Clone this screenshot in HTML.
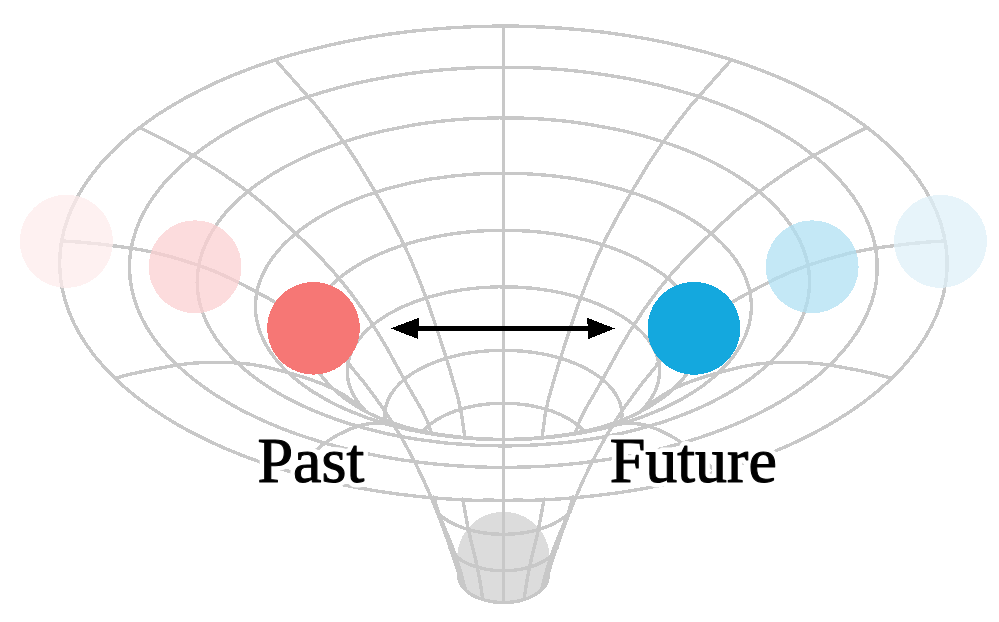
<!DOCTYPE html>
<html><head><meta charset="utf-8"><style>
html,body{margin:0;padding:0;background:#fff;width:999px;height:622px;overflow:hidden}
svg{display:block}
</style></head><body>
<svg width="999" height="622" viewBox="0 0 999 622" shape-rendering="crispEdges">
<rect width="999" height="622" fill="#fff"/>
<circle cx="503.4" cy="558" r="46.2" fill="#dcdcdc"/>
<path d="M458.6 574 L458.6 576 A44.8 26.6 0 0 0 548.2 576 L548.2 574 Z" fill="#dcdcdc"/>
<g transform="translate(0.4 0)" shape-rendering="crispEdges" fill="none" stroke="#c8c8c8" stroke-width="3.4" stroke-linejoin="round" stroke-linecap="round"><path d="M458.2 576.0L458.5 578.8L459.2 581.6L461.5 586.1L463.6 588.6L466.0 591.0L471.0 594.6L477.1 597.7L485.3 600.4L494.4 602.1L502.2 602.6L511.6 602.1L519.2 600.8L527.6 598.2L535.0 594.6L540.8 590.2L544.5 586.1L546.8 581.6L547.5 578.8L547.8 576.0"/><path d="M946.6 257.5L945.6 246.1L943.5 234.8L940.4 223.5L936.0 211.4L930.8 200.4L924.7 189.6L917.7 178.9L908.9 167.5L899.9 157.3L890.1 147.4L879.4 137.7L866.7 127.5L854.3 118.4L839.9 109.0L825.9 100.6L809.8 92.0L794.3 84.4L778.3 77.3L761.6 70.6L742.8 63.7L725.0 57.9L705.0 52.1L686.3 47.3L665.4 42.6L645.8 38.7L624.2 35.1L604.1 32.3L581.9 29.9L561.4 28.2L538.8 26.9L518.1 26.2L495.4 26.1L472.8 26.7L452.1 27.7L429.7 29.4L409.3 31.5L387.3 34.3L367.3 37.5L345.9 41.5L326.7 45.7L306.1 50.8L287.6 55.9L268.0 62.1L250.6 68.2L232.2 75.4L216.0 82.4L200.4 89.9L185.4 97.7L169.9 106.7L156.4 115.2L143.7 124.2L131.8 133.4L119.7 143.8L109.5 153.7L100.2 163.8L91.8 174.2L83.7 185.7L77.3 196.5L71.8 207.4L67.3 218.5L63.5 230.7L61.0 242.0L59.6 253.3L59.2 264.7L60.0 277.1L61.7 288.5L64.5 299.9L68.3 311.1L73.5 323.3L79.4 334.3L86.4 345.2L94.2 355.9L104.0 367.4L113.9 377.6L124.7 387.6L136.4 397.3L149.0 406.7L162.5 415.7L176.8 424.4L191.9 432.8L209.2 441.4L225.8 448.9L243.1 455.9L261.1 462.5L279.6 468.6L298.7 474.2L318.3 479.3L338.3 483.9L358.8 488.0L379.6 491.5L400.7 494.5L422.0 496.9L443.6 498.7L465.3 500.0L487.1 500.7L509.0 500.8L530.8 500.4L552.5 499.4L574.2 497.8L595.6 495.6L616.9 492.9L637.8 489.6L658.4 485.8L678.7 481.5L698.5 476.6L717.8 471.2L736.6 465.3L754.8 459.0L772.4 452.1L789.3 444.9L805.6 437.1L822.4 428.3L837.1 419.7L850.9 410.8L864.0 401.6L877.2 391.1L888.3 381.3L898.6 371.1L907.8 360.7L916.9 349.1L924.2 338.3L930.4 327.3L935.7 316.2L940.3 304.0L943.4 292.7L945.5 281.3L946.6 269.9L946.6 257.5"/><path d="M876.8 263.0L876.0 253.4L874.3 243.9L871.8 234.4L868.1 224.1L863.9 214.9L858.8 205.7L852.9 196.7L845.6 187.1L838.0 178.5L829.8 170.0L820.8 161.8L810.2 153.2L799.7 145.5L788.6 138.1L776.9 131.1L763.4 123.7L750.4 117.3L736.9 111.2L722.9 105.4L707.1 99.6L692.1 94.6L675.2 89.7L659.4 85.5L641.8 81.5L625.3 78.2L607.0 75.1L590.0 72.7L571.3 70.5L553.9 69.0L534.9 67.9L517.4 67.3L498.2 67.2L479.1 67.6L461.6 68.4L442.6 69.8L425.3 71.5L406.7 73.9L389.8 76.6L371.7 79.9L355.3 83.4L337.9 87.7L322.3 92.1L305.7 97.3L291.0 102.5L275.4 108.5L261.6 114.4L248.4 120.7L235.8 127.3L222.6 134.9L211.2 142.1L200.5 149.7L190.4 157.5L180.2 166.3L171.6 174.6L163.8 183.1L156.7 191.9L149.8 201.6L144.4 210.7L139.7 219.9L135.9 229.3L132.7 239.6L130.6 249.1L129.4 258.6L129.1 268.2L129.7 278.7L131.2 288.3L133.5 297.9L136.7 307.4L141.1 317.6L146.1 326.9L151.9 336.1L158.5 345.1L166.6 354.7L175.0 363.3L184.0 371.7L193.9 379.9L204.5 387.8L215.8 395.4L227.8 402.7L240.4 409.8L255.0 417.0L268.9 423.3L283.4 429.3L298.4 434.8L314.0 439.9L330.0 444.7L346.4 449.0L363.2 452.9L381.9 456.6L399.4 459.6L417.1 462.0L435.0 464.1L453.1 465.6L471.4 466.7L489.7 467.3L508.0 467.4L526.3 467.0L544.6 466.2L562.7 464.8L580.8 463.0L598.6 460.7L616.2 458.0L633.5 454.8L650.5 451.2L667.1 447.1L683.3 442.6L699.1 437.7L714.5 432.3L729.3 426.6L743.5 420.5L757.2 414.0L771.4 406.6L783.8 399.5L795.4 392.0L806.4 384.2L817.6 375.5L827.0 367.2L835.7 358.6L843.5 349.9L851.2 340.2L857.4 331.1L862.7 321.9L867.2 312.5L871.2 302.2L873.9 292.7L875.7 283.1L876.7 273.5L876.8 263.0"/><path d="M809.1 279.0L808.5 271.1L807.2 263.3L805.2 255.5L802.2 247.1L798.8 239.5L794.6 231.9L789.9 224.5L783.9 216.6L777.8 209.5L771.1 202.6L763.7 195.8L755.1 188.7L746.5 182.4L736.6 175.8L726.9 170.0L715.9 163.9L705.2 158.6L694.1 153.6L682.6 148.9L669.5 144.1L657.2 140.1L643.4 136.0L630.3 132.6L615.8 129.3L588.5 124.3L574.5 122.3L559.1 120.5L544.9 119.3L529.2 118.3L499.1 117.8L468.9 118.8L453.3 119.9L439.1 121.4L423.8 123.3L410.0 125.5L382.9 130.9L368.5 134.4L355.7 138.0L342.0 142.3L329.9 146.5L317.1 151.5L305.8 156.3L294.9 161.5L284.5 166.9L273.7 173.1L264.4 179.1L255.5 185.2L247.2 191.7L238.9 198.9L231.8 205.7L225.3 212.7L219.5 219.9L213.9 227.9L209.4 235.3L205.6 242.9L202.5 250.6L199.8 259.0L198.1 266.8L197.1 274.7L196.8 282.6L197.3 291.2L198.5 299.0L200.4 306.8L203.0 314.6L206.6 323.0L210.7 330.6L215.4 338.1L220.8 345.5L227.5 353.4L234.3 360.5L241.7 367.4L249.7 374.0L258.3 380.5L267.6 386.8L277.3 392.8L287.6 398.5L299.5 404.5L310.8 409.6L322.7 414.5L334.9 419.0L347.6 423.3L360.6 427.1L374.0 430.7L387.7 433.9L402.9 437.0L417.2 439.4L446.2 443.1L475.8 445.3L505.7 446.0L535.6 445.0L565.1 442.6L579.7 440.7L594.0 438.6L608.2 436.0L623.3 432.8L636.9 429.4L650.2 425.8L663.1 421.8L675.6 417.4L687.7 412.7L699.3 407.8L710.5 402.5L722.2 396.4L732.3 390.6L741.9 384.5L750.9 378.2L760.0 371.0L767.8 364.2L774.9 357.3L781.4 350.1L787.7 342.2L792.8 334.8L797.2 327.2L801.0 319.5L804.3 311.1L806.5 303.3L808.1 295.4L809.0 287.6L809.1 279.0"/><path d="M751.0 304.5L750.5 298.2L749.5 291.8L747.9 285.5L745.5 278.6L742.8 272.4L739.5 266.3L735.6 260.3L730.8 253.8L725.9 248.0L720.5 242.4L714.6 236.9L707.6 231.1L700.7 225.9L693.3 221.0L685.5 216.2L676.6 211.3L659.0 202.8L639.2 195.0L618.0 188.3L595.7 182.8L573.5 178.6L549.7 175.5L525.4 173.7L500.9 173.2L476.4 173.9L452.2 176.0L428.4 179.3L406.4 183.7L384.3 189.4L363.3 196.3L343.7 204.3L326.4 212.9L317.6 217.9L310.0 222.8L302.8 227.8L296.0 233.0L289.2 238.9L283.5 244.4L278.2 250.1L273.5 256.0L268.9 262.4L265.3 268.5L262.2 274.7L259.6 280.9L257.5 287.8L256.1 294.1L255.3 300.5L255.0 306.9L255.4 313.8L256.3 320.2L257.9 326.6L260.0 332.9L262.9 339.7L266.1 345.9L270.0 352.0L274.3 358.0L279.7 364.4L285.1 370.1L291.1 375.7L297.6 381.1L305.2 386.8L312.7 391.9L329.0 401.4L338.6 406.2L347.8 410.4L367.2 418.0L388.0 424.5L409.9 430.0L433.7 434.4L457.2 437.4L481.1 439.2L505.2 439.7L529.3 439.0L553.1 437.0L576.5 433.7L600.2 429.1L621.9 423.4L642.4 416.7L661.6 408.9L670.7 404.6L680.1 399.7L688.3 395.0L696.1 390.1L703.4 385.0L710.8 379.2L717.1 373.7L722.9 368.0L728.2 362.3L733.3 355.8L737.5 349.8L741.1 343.7L744.2 337.5L746.9 330.6L748.8 324.3L750.1 317.9L750.8 311.5L751.0 304.5"/><path d="M699.3 334.9L698.8 328.4L697.5 322.0L695.6 315.6L692.7 308.9L689.3 302.7L685.2 296.7L680.4 290.8L674.6 284.7L668.5 279.1L661.8 273.8L654.5 268.8L646.0 263.6L637.6 259.1L628.1 254.5L618.7 250.6L608.2 246.7L598.0 243.5L587.4 240.5L576.6 238.0L564.6 235.6L553.3 233.8L540.9 232.2L529.2 231.2L516.5 230.5L504.7 230.2L492.0 230.4L479.3 231.0L467.6 232.0L455.2 233.4L443.8 235.2L432.6 237.3L421.7 239.8L410.3 242.8L400.0 246.0L389.4 249.8L379.9 253.7L370.2 258.1L361.7 262.6L353.7 267.4L346.3 272.4L338.9 278.0L332.7 283.5L327.1 289.1L322.1 295.0L317.5 301.4L314.0 307.6L311.1 313.8L308.9 320.2L307.4 327.1L306.8 333.5L306.8 340.0L307.6 346.4L309.3 353.3L311.6 359.7L314.7 365.9L318.4 372.1L323.2 378.6L328.4 384.4L334.2 390.1L340.7 395.6L347.8 400.9L355.5 405.9L363.7 410.7L372.5 415.1"/><path d="M633.5 415.1L648.2 407.3L661.3 398.6L667.2 394.1L672.7 389.3L677.6 384.4L682.4 379.0L686.4 373.8L689.8 368.6L692.7 363.3L695.3 357.4L697.1 351.9L698.4 346.4L699.1 340.9L699.3 334.9"/><path d="M659.1 370.5L658.8 365.7L658.0 361.0L656.6 356.2L654.8 351.5L652.5 346.9L649.7 342.4L646.5 337.9L642.8 333.6L634.1 325.3L623.7 317.6L611.7 310.6L597.9 304.2L583.4 298.8L567.8 294.4L551.5 290.9L533.9 288.4L516.5 287.1L498.3 286.8L480.8 287.6L463.6 289.5L446.2 292.5L430.3 296.5L415.2 301.4L401.3 307.2L388.6 313.8L377.3 321.1L367.7 329.1L363.5 333.3L359.8 337.6L356.5 342.0L353.7 346.6L351.3 351.2L349.5 355.9L348.1 360.6L347.2 365.4L346.9 370.1L347.0 374.9L347.6 379.7L348.8 384.5L350.4 389.2L352.5 393.9L355.2 398.5L358.3 403.0L361.8 407.4L365.8 411.7"/><path d="M640.2 411.7L644.5 407.0L648.5 401.9L651.7 397.0L654.5 391.7L656.5 386.7L658.1 381.2L658.9 376.0L659.1 370.5"/><path d="M621.6 414.4L620.9 407.9L619.1 401.5L616.0 395.3L611.9 389.2L606.6 383.4L600.4 378.0L593.1 372.9L584.6 368.0L575.6 363.8L565.9 360.1L555.6 357.0L544.3 354.3L533.0 352.4L521.4 351.1L509.7 350.4L497.3 350.4L485.1 351.0L473.5 352.3L462.2 354.2L451.3 356.7L440.9 359.8L431.2 363.5L422.1 367.6L413.9 372.2L406.2 377.5L399.9 383.0L394.5 388.7L390.3 394.7L387.2 401.0L385.2 407.3L384.4 413.8L384.8 420.3"/><path d="M621.2 420.3L621.6 414.4"/><path d="M583.7 431.3L577.7 425.4L570.0 419.8L561.2 415.1L551.0 410.9L540.1 407.7L528.2 405.2L515.7 403.7L503.0 403.2L490.3 403.7L477.8 405.2L465.9 407.7L455.0 410.9L444.8 415.1L436.0 419.8L428.3 425.4L422.3 431.3"/><path d="M484.4 499.4L493.6 500.2L503.0 500.4L512.4 500.2L521.6 499.4"/><path d="M436.1 511.6L441.3 516.5L447.8 521.0L455.4 525.0L463.6 528.2L472.8 530.9L482.7 532.8L492.9 534.0L503.0 534.4L513.1 534.0L523.3 532.8L533.2 530.9L542.4 528.2L550.6 525.0L558.2 521.0L564.7 516.5L569.9 511.6"/><path d="M449.5 548.2L452.6 553.0L457.0 557.3L462.7 561.3L469.4 564.6L477.1 567.3L485.4 569.2L494.1 570.4L503.0 570.8L511.9 570.4L520.6 569.2L528.9 567.3L536.6 564.6L543.3 561.3L549.0 557.3L553.4 553.0L556.5 548.2"/><path d="M503.0 26.1L503.0 439.1"/><path d="M503.0 500.9L503.0 439.4"/><path d="M503.0 500.0L503.0 602.0"/><path d="M275.0 59.8L315.6 105.5L329.1 122.8L345.3 144.8L357.2 162.7L371.7 186.5L388.0 214.7L400.1 237.5L409.8 258.2L419.4 281.4L429.2 307.5L438.5 335.1L448.5 366.5L457.8 398.5L461.2 414.6L464.4 437.5"/><path d="M731.0 59.8L690.4 105.5L676.9 122.8L660.7 144.8L648.8 162.7L634.3 186.5L618.0 214.7L605.9 237.5L596.2 258.2L586.6 281.4L576.8 307.5L567.5 335.1L557.5 366.5L548.2 398.5L544.8 414.6L541.6 437.5"/><path d="M139.2 127.5L165.2 140.6L199.4 159.2L217.8 170.7L239.3 185.7L256.7 198.8L273.1 212.8L302.8 240.6L323.4 261.2L336.9 276.1L349.6 291.9L362.5 309.8L376.5 331.2L385.7 346.6L405.0 381.6L421.7 410.4L427.1 421.6L430.9 432.9"/><path d="M866.8 127.5L840.8 140.6L806.6 159.2L788.2 170.7L766.7 185.7L749.3 198.8L732.9 212.8L703.2 240.6L682.6 261.2L669.1 276.1L656.4 291.9L643.5 309.8L629.5 331.2L620.3 346.6L601.0 381.6L584.3 410.4L578.9 421.6L575.1 432.9"/><path d="M61.2 240.9L79.5 242.1L98.2 243.9L122.5 247.0L140.7 249.8L154.5 252.6L169.6 256.5L185.5 261.2L201.6 266.5L215.1 271.7L229.1 278.0L244.6 285.8L267.0 297.8L281.8 306.7L294.1 314.8L304.9 322.5L314.7 330.3L323.3 337.9L331.6 345.8L349.9 364.8L349.2 365.0L363.9 382.9L379.8 404.3L389.4 418.6L400.4 436.5L408.4 450.8L415.9 465.1L422.8 479.4L430.7 497.3L438.0 515.2L444.7 533.1L452.1 554.5L459.1 576.0"/><path d="M944.8 240.9L926.5 242.1L907.8 243.9L883.5 247.0L865.3 249.8L851.5 252.6L836.4 256.5L820.5 261.2L804.4 266.5L790.9 271.7L776.9 278.0L761.4 285.8L739.0 297.8L724.2 306.7L711.9 314.8L701.1 322.5L691.3 330.3L682.7 337.9L674.4 345.8L656.1 364.8L656.8 365.0L642.1 382.9L626.2 404.3L616.6 418.6L605.6 436.5L597.6 450.8L590.1 465.1L583.2 479.4L575.3 497.3L568.0 515.2L561.3 533.1L553.9 554.5L546.9 576.0"/><path d="M114.5 378.2L130.9 374.0L149.3 370.0L174.1 365.5L188.0 363.6L202.4 362.5L217.8 362.3L236.6 362.9L249.2 364.1L264.3 366.7L282.9 371.3L304.0 377.4L320.8 383.4L331.8 388.3L342.6 394.5L353.5 401.9L365.0 411.1"/><path d="M433.4 497.1L436.7 508.4L439.3 516.1L451.0 544.5L454.8 554.6L460.5 572.8L465.0 589.9"/><path d="M891.5 378.2L875.1 374.0L856.7 370.0L831.9 365.5L818.0 363.6L803.6 362.5L788.2 362.3L769.4 362.9L756.8 364.1L741.7 366.7L723.1 371.3L702.0 377.4L685.2 383.4L674.2 388.3L663.4 394.5L652.5 401.9L641.0 411.1"/><path d="M572.6 497.1L569.3 508.4L566.7 516.1L555.0 544.5L551.2 554.6L545.5 572.8L541.0 589.9"/><path d="M290.4 471.9L298.4 464.3L306.8 457.1L326.0 442.0L331.5 438.3L337.3 434.9L349.6 429.1L361.6 425.0L366.7 424.0L372.2 423.5L379.4 423.5L389.9 424.1L396.8 425.1L402.8 426.5"/><path d="M462.3 499.1L468.0 529.8L476.8 566.4L479.9 583.1L482.3 599.1"/><path d="M715.6 471.9L707.6 464.3L699.2 457.1L680.0 442.0L674.5 438.3L668.7 434.9L656.4 429.1L644.4 425.0L639.3 424.0L633.8 423.5L626.6 423.5L616.1 424.1L609.2 425.1L603.2 426.5"/><path d="M543.7 499.1L538.0 529.8L529.2 566.4L526.1 583.1L523.7 599.1"/><path d="M497.8 439.4L478.5 438.7L458.8 437.1L439.3 434.5L421.1 431.1L404.0 426.8L388.6 421.9L374.4 416.0L368.0 412.9L363.2 410.1"/><path d="M508.2 439.4L527.5 438.7L547.2 437.1L566.7 434.5L584.9 431.1L602.0 426.8L617.4 421.9L631.6 416.0L638.0 412.9L642.8 410.1"/></g>
<circle cx="66.4" cy="241.3" r="46.5" fill="#feecec" fill-opacity="0.75"/>
<circle cx="195.1" cy="266.8" r="46.4" fill="#fbd0d2" fill-opacity="0.75"/>
<circle cx="313.5" cy="328.3" r="46.3" fill="#f67775"/>
<circle cx="693.9" cy="328.3" r="46.4" fill="#14a8de"/>
<circle cx="812.2" cy="266.8" r="46.4" fill="#b0e0f3" fill-opacity="0.75"/>
<circle cx="940.5" cy="241.3" r="46.5" fill="#dff0f8" fill-opacity="0.75"/>
<g fill="#000">
<rect x="416" y="326.1" width="174" height="4.8"/>
<path d="M390.9 328.4 L418.8 317.8 L418.2 339.1 Z"/>
<path d="M614.8 328.5 L587.2 317.8 L588.2 339.1 Z"/>
</g>
<g font-family="Liberation Serif" font-size="64" fill="#fff" stroke="#fff" stroke-width="10" stroke-linejoin="round">
<text x="257.5" y="482">Past</text>
<text x="609.7" y="482">Future</text>
</g>
<g font-family="Liberation Serif" font-size="64" fill="#000" stroke="#000" stroke-width="1.1" stroke-linejoin="round">
<text x="257.5" y="482">Past</text>
<text x="609.7" y="482">Future</text>
</g>
</svg>
</body></html>
